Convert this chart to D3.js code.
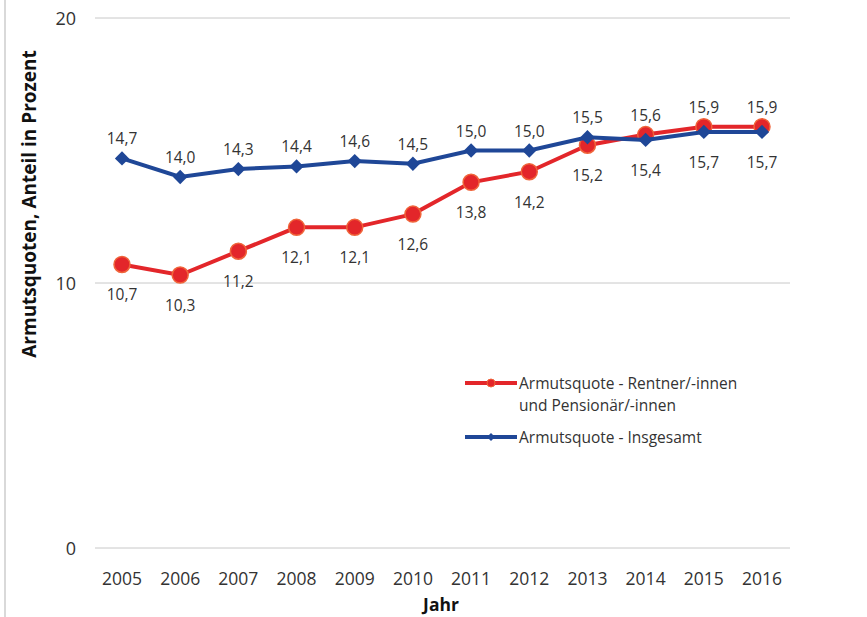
<!DOCTYPE html>
<html>
<head>
<meta charset="utf-8">
<script src="https://cdn.jsdelivr.net/npm/d3@7"></script>
<style>
  body { margin: 0; background: #fff; }
  text { font-family: "Open Sans", "Noto Sans", sans-serif; fill: #333; }
</style>
</head>
<body>
<script>
const years = [2005, 2006, 2007, 2008, 2009, 2010, 2011, 2012, 2013, 2014, 2015, 2016];
const rentner = [10.7, 10.3, 11.2, 12.1, 12.1, 12.6, 13.8, 14.2, 15.2, 15.6, 15.9, 15.9];
const insgesamt = [14.7, 14.0, 14.3, 14.4, 14.6, 14.5, 15.0, 15.0, 15.5, 15.4, 15.7, 15.7];
const yTicks = [0, 10, 20];
const legendLabels = [["Armutsquote - Rentner/-innen", "und Pensionär/-innen"], ["Armutsquote - Insgesamt"]];

const width = 867, height = 617;
const svg = d3.select("body").append("svg")
    .attr("width", width)
    .attr("height", height);

// left border of scanned chart frame
svg.append("line")
    .attr("x1", 5).attr("x2", 5).attr("y1", 0).attr("y2", height)
    .attr("stroke", "#ccc").attr("stroke-width", 1.5);

const x = d3.scalePoint().domain(years).range([122, 762]);
const y = d3.scaleLinear().domain([0, 20]).range([548, 18]);

// gridlines
svg.selectAll(".grid")
    .data(yTicks)
    .enter()
    .append("line")
    .attr("x1", 95).attr("x2", 790)
    .attr("y1", d => y(d)).attr("y2", d => y(d))
    .attr("stroke", "#c8c8c8").attr("stroke-width", 1);

// y tick labels
svg.selectAll(".ylab")
    .data(yTicks)
    .enter()
    .append("text")
    .attr("x", 76)
    .attr("y", d => y(d) + 7)
    .attr("text-anchor", "end")
    .style("font-size", "18px")
    .text(d => d);

// x tick labels
svg.selectAll(".xlab")
    .data(years)
    .enter()
    .append("text")
    .attr("x", d => x(d))
    .attr("y", 585)
    .attr("text-anchor", "middle")
    .style("font-size", "17.5px")
    .text(d => d);

// axis titles
svg.append("text")
    .attr("x", 441).attr("y", 611)
    .attr("text-anchor", "middle")
    .style("font-size", "17.5px").style("font-weight", "bold").style("fill", "#111")
    .text("Jahr");

svg.append("text")
    .attr("transform", "translate(36,204) rotate(-90)")
    .attr("text-anchor", "middle")
    .style("font-size", "19px").style("font-weight", "bold").style("fill", "#111")
    .text("Armutsquoten, Anteil in Prozent");

const red = "#e3262a", blue = "#1f4797";
const line = d3.line().x((d, i) => x(years[i])).y(d => y(d));

// red series
svg.append("path")
    .datum(rentner)
    .attr("d", line)
    .attr("fill", "none").attr("stroke", red).attr("stroke-width", 4);

svg.selectAll(".rdot")
    .data(rentner)
    .enter()
    .append("circle")
    .attr("cx", (d, i) => x(years[i]))
    .attr("cy", d => y(d))
    .attr("r", 8)
    .attr("fill", red)
    .attr("stroke", "#f0643a").attr("stroke-width", 1.5);

// blue series
svg.append("path")
    .datum(insgesamt)
    .attr("d", line)
    .attr("fill", "none").attr("stroke", blue).attr("stroke-width", 4);

svg.selectAll(".bdot")
    .data(insgesamt)
    .enter()
    .append("path")
    .attr("d", d3.symbol().type(d3.symbolDiamond2).size(130))
    .attr("transform", (d, i) => `translate(${x(years[i])},${y(d)})`)
    .attr("fill", blue);

const fmt = v => v.toFixed(1).replace(".", ",");

// value labels: red below until 2013, above afterwards; blue the opposite
svg.selectAll(".rlab")
    .data(rentner)
    .enter()
    .append("text")
    .attr("x", (d, i) => x(years[i]))
    .attr("y", (d, i) => years[i] >= 2014 ? y(d) - 14 : y(d) + 36)
    .attr("text-anchor", "middle")
    .style("font-size", "15.5px")
    .text(fmt);

svg.selectAll(".blab")
    .data(insgesamt)
    .enter()
    .append("text")
    .attr("x", (d, i) => x(years[i]))
    .attr("y", (d, i) => years[i] >= 2014 ? y(d) + 36 : y(d) - 14)
    .attr("text-anchor", "middle")
    .style("font-size", "15.5px")
    .text(fmt);

// legend
const legend = svg.append("g").attr("transform", "translate(465,383)");
const legendColors = [red, blue];
const legendY = [0, 54];
legendLabels.forEach((lines, i) => {
  const g = legend.append("g").attr("transform", `translate(0,${legendY[i]})`);
  g.append("line").attr("x1", 0).attr("x2", 52).attr("y1", 0).attr("y2", 0)
    .attr("stroke", legendColors[i]).attr("stroke-width", 4);
  if (i === 0) {
    g.append("circle").attr("cx", 26).attr("cy", 0).attr("r", 4).attr("fill", red)
      .attr("stroke", "#f0643a");
  } else {
    g.append("path").attr("d", d3.symbol().type(d3.symbolDiamond2).size(40))
      .attr("transform", "translate(26,0)").attr("fill", blue);
  }
  lines.forEach((t, j) => {
    g.append("text")
      .attr("x", 54).attr("y", 6 + j * 22)
      .style("font-size", "15.5px")
      .text(t);
  });
});
</script>
</body>
</html>
